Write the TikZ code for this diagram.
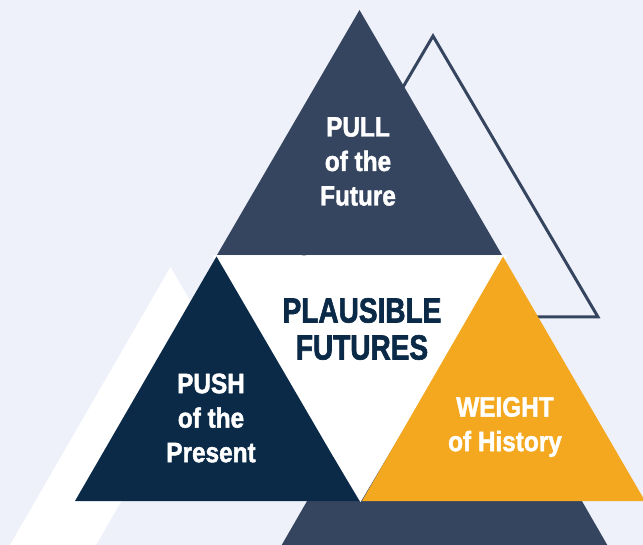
\documentclass[tikz,border=0pt]{standalone}
\usepackage{fontspec}
\newfontfamily\headfont{Liberation Sans}[UprightFont=*-Bold,FakeStretch=0.87,FakeBold=1.6]
\newfontfamily\corefont{Liberation Sans}[UprightFont=*-Bold,FakeStretch=0.8,FakeBold=1.8]
\definecolor{bgpale}{HTML}{EEF1F9}
\definecolor{slate}{HTML}{36455F}
\definecolor{navy}{HTML}{0A2A47}
\definecolor{amber}{HTML}{F4A820}
\begin{document}
\begin{tikzpicture}[x=1pt,y=-1pt,
  label/.style={text=white,font=\headfont\fontsize{28}{34.5}\selectfont,align=center,inner sep=0pt},
  core/.style={text=navy,font=\corefont\fontsize{35}{37}\selectfont,align=center,inner sep=0pt}]
  % canvas
  \fill[bgpale] (0,0) rectangle (643,545);
  \useasboundingbox (0,0) rectangle (643,545);
  \begin{scope}
    \clip (0,0) rectangle (643,545);
    % pale band on the left
    \fill[white] (170.5,267) -- (200,318) -- (151,450) -- (96,545) -- (10,545) -- cycle;
    % outlined triangle behind the top
    \draw[slate,line width=3pt,line join=miter] (433,36) -- (598,317) -- (268,317) -- cycle;
    % lower slate triangle
    \fill[slate] (444.5,263) -- (620,567) -- (269,567) -- cycle;
    % top triangle
    \fill[slate] (359.5,10) -- (502,255) -- (217,255) -- cycle;
    % centre (inverted) triangle
    \fill[white] (212,255.5) -- (507,255.5) -- (360.5,502) -- cycle;
    % left triangle
    \fill[navy] (216.5,256.5) -- (359,501) -- (75,501) -- cycle;
    % right triangle
    \fill[amber] (503,256.5) -- (645,501) -- (362,501) -- cycle;
  \end{scope}
  % texts
  \node[label] (pull) at (358,161.5) {PULL\\of the\\Future};
  \node[label] (push) at (211,418) {PUSH\\of the\\Present};
  \node[label] (weight) at (505,427) {WEIGHT\\of History};
  \node[core] (plausible) at (362,329) {PLAUSIBLE\\FUTURES};
\end{tikzpicture}
\end{document}
